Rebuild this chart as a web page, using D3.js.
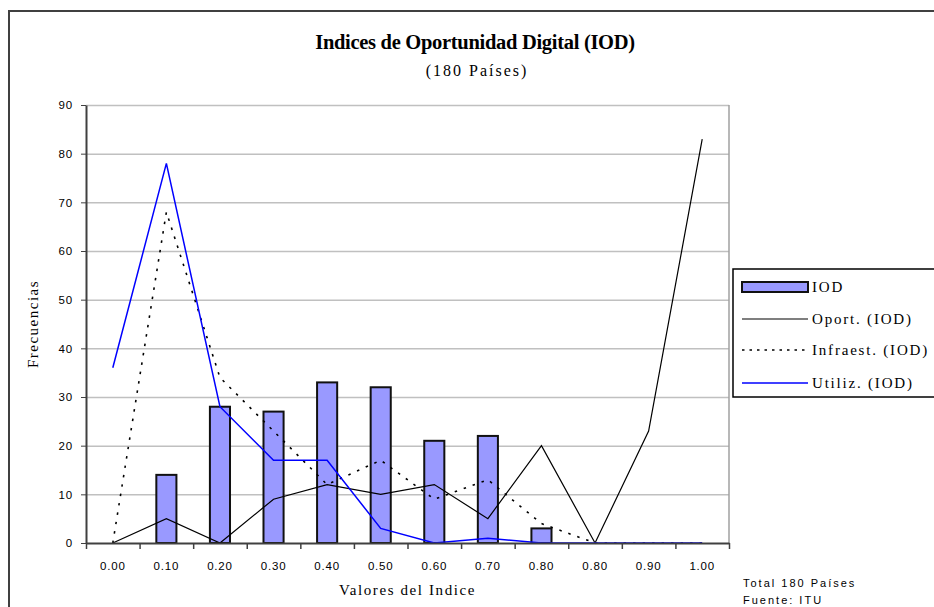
<!DOCTYPE html>
<html>
    <head>
        <style>
            body{
                margin: 0;
                background-color: white;
            }
            .serif{ font-family: "Liberation Serif", "DejaVu Serif", "Times New Roman", serif; }
            .sans{ font-family: "Liberation Sans", Arial, sans-serif; }
            .axis path, .axis line{ stroke: #404040; }
            .grid line{ stroke: #c0c0c0; stroke-width: 1.5; }
            .grid path{ display: none; }
        </style>
        <script src="https://d3js.org/d3.v7.min.js"></script>
    </head>
    <body>
        <script>
            const w = 934;
            const h = 607;

            // valores
            const categories = ["0.00","0.10","0.20","0.30","0.40","0.50","0.60","0.70","0.80","0.80","0.90","1.00"];
            const iod = [0,14,28,27,33,32,21,22,3,0,0,0];
            const oport = [0,5,0,9,12,10,12,5,20,0,23,83];
            const infraest = [0,68,34,23,12,17,9,13,4,0,0,0];
            const utiliz = [36,78,28,17,17,3,0,1,0,0,0,0];
            const yTicks = [0,10,20,30,40,50,60,70,80,90];
            const legendLabels = ["IOD","Oport. (IOD)","Infraest. (IOD)","Utiliz. (IOD)"];

            const padL = 86, padR = 729, padT = 105, padB = 543;

            const svg = d3.select("body")
                        .append("svg")
                        .attr("width",w)
                        .attr("height",h)

            // marco exterior
            svg.append("rect")
                .attr("x",9).attr("y",11)
                .attr("width",1000).attr("height",700)
                .attr("fill","white")
                .attr("stroke","#404040")
                .attr("stroke-width",2)

            const xScale = d3.scaleBand().domain(d3.range(categories.length)).range([padL,padR]);
            const xEdges = d3.scaleLinear().domain([0,categories.length]).range([padL,padR]);
            const yScale = d3.scaleLinear().domain([0,90]).range([padB,padT]);

            // lineas de la grilla
            svg.append("g")
                .attr("class","grid")
                .attr("transform","translate(" + padL + ",0)")
                .call(d3.axisLeft(yScale).tickValues(yTicks.slice(1)).tickSize(-(padR-padL)).tickFormat(""))

            // borde derecho del area
            svg.append("line")
                .attr("x1",padR).attr("x2",padR)
                .attr("y1",padT).attr("y2",padB)
                .attr("stroke","#a0a0a0").attr("stroke-width",1.5)

            // barras
            const bw = xScale.bandwidth()*0.375;
            svg.selectAll("rect.bar")
                .data(iod.map((v,i) => ({v:v,i:i})).filter(d => d.v > 0))
                .enter()
                .append("rect")
                .attr("class","bar")
                .attr("x",d => xScale(d.i) + (xScale.bandwidth()-bw)/2)
                .attr("y",d => yScale(d.v))
                .attr("width",bw)
                .attr("height",d => padB - yScale(d.v))
                .attr("fill","#9999ff")
                .attr("stroke","#111")
                .attr("stroke-width",2)

            const line = d3.line()
                .x((d,i) => xScale(i) + xScale.bandwidth()/2)
                .y(d => yScale(d));

            svg.append("path").datum(oport)
                .attr("d",line).attr("fill","none")
                .attr("stroke","#000").attr("stroke-width",1.2)
            svg.append("path").datum(infraest)
                .attr("d",line).attr("fill","none")
                .attr("stroke","#000").attr("stroke-width",1.6)
                .attr("stroke-dasharray","2.5,7")
            svg.append("path").datum(utiliz)
                .attr("d",line).attr("fill","none")
                .attr("stroke","#0000ff").attr("stroke-width",1.5)

            // eje y
            const yAxis = svg.append("g")
                .attr("class","axis sans")
                .attr("transform","translate(" + padL + ",0)")
                .call(d3.axisLeft(yScale).tickValues(yTicks).tickSize(5).tickPadding(8).tickSizeOuter(0))
            yAxis.select(".domain").attr("stroke-width",2)
            yAxis.selectAll("text").attr("font-size","11.5px").attr("letter-spacing","0.8px").attr("fill","#000")

            // eje x: marcas en los bordes
            const xTicks = svg.append("g")
                .attr("class","axis")
                .attr("transform","translate(0," + padB + ")")
                .call(d3.axisBottom(xEdges).tickValues(d3.range(categories.length+1)).tickSize(6).tickSizeOuter(0).tickFormat(""))
            xTicks.select(".domain").attr("stroke-width",2)
            xTicks.selectAll("line").attr("stroke-width",1.5)

            // eje x: etiquetas
            const xLabels = svg.append("g")
                .attr("class","sans")
                .attr("transform","translate(0," + padB + ")")
                .call(d3.axisBottom(xScale).tickSize(0).tickPadding(19).tickFormat(i => categories[i]))
            xLabels.select(".domain").remove()
            xLabels.selectAll("text").attr("font-size","11.5px").attr("letter-spacing","0.8px").attr("fill","#000")

            // titulos
            svg.append("text")
                .attr("class","serif")
                .attr("x",475).attr("y",49)
                .attr("text-anchor","middle")
                .attr("font-size","20.5px")
                .attr("font-weight","bold")
                .attr("letter-spacing","-0.3px")
                .text("Indices de Oportunidad Digital (IOD)")
            svg.append("text")
                .attr("class","serif")
                .attr("x",477).attr("y",76)
                .attr("text-anchor","middle")
                .attr("font-size","16px")
                .attr("letter-spacing","2px")
                .text("(180 Países)")
            svg.append("text")
                .attr("class","serif")
                .attr("x",(padL+padR)/2).attr("y",595)
                .attr("text-anchor","middle")
                .attr("font-size","15px")
                .attr("letter-spacing","1.6px")
                .text("Valores del Indice")
            svg.append("text")
                .attr("class","serif")
                .attr("transform","translate(38," + ((padT+padB)/2) + ") rotate(-90)")
                .attr("text-anchor","middle")
                .attr("font-size","15px")
                .attr("letter-spacing","1.5px")
                .text("Frecuencias")

            // leyenda
            const legend = svg.append("g").attr("class","serif")
            legend.append("rect")
                .attr("x",733).attr("y",269)
                .attr("width",300).attr("height",128)
                .attr("fill","white")
                .attr("stroke","#000")
                .attr("stroke-width",1.5)
            const rowY = [287,319,350,383];
            legend.append("rect")
                .attr("x",742).attr("y",rowY[0]-5)
                .attr("width",66).attr("height",10)
                .attr("fill","#9999ff").attr("stroke","#111").attr("stroke-width",2)
            const styles = [null,{c:"#000",d:null,wd:1.2},{c:"#000",d:"2.5,5",wd:1.6},{c:"#0000ff",d:null,wd:1.5}];
            styles.forEach((s,i) => {
                if(!s) return;
                legend.append("line")
                    .attr("x1",742).attr("x2",808)
                    .attr("y1",rowY[i]).attr("y2",rowY[i])
                    .attr("stroke",s.c).attr("stroke-width",s.wd)
                    .attr("stroke-dasharray",s.d)
            })
            legend.selectAll("text.lbl")
                .data(legendLabels)
                .enter()
                .append("text")
                .attr("class","lbl")
                .attr("x",812)
                .attr("y",(d,i) => rowY[i] + 5)
                .attr("font-size","15px")
                .attr("letter-spacing","1.8px")
                .text(d => d)

            // nota
            svg.append("text")
                .attr("class","sans")
                .attr("x",743).attr("y",587)
                .attr("font-size","11px")
                .attr("letter-spacing","2px")
                .text("Total 180 Países")
            svg.append("text")
                .attr("class","sans")
                .attr("x",743).attr("y",604)
                .attr("font-size","11px")
                .attr("letter-spacing","2px")
                .text("Fuente: ITU")
        </script>
    </body>
</html>
